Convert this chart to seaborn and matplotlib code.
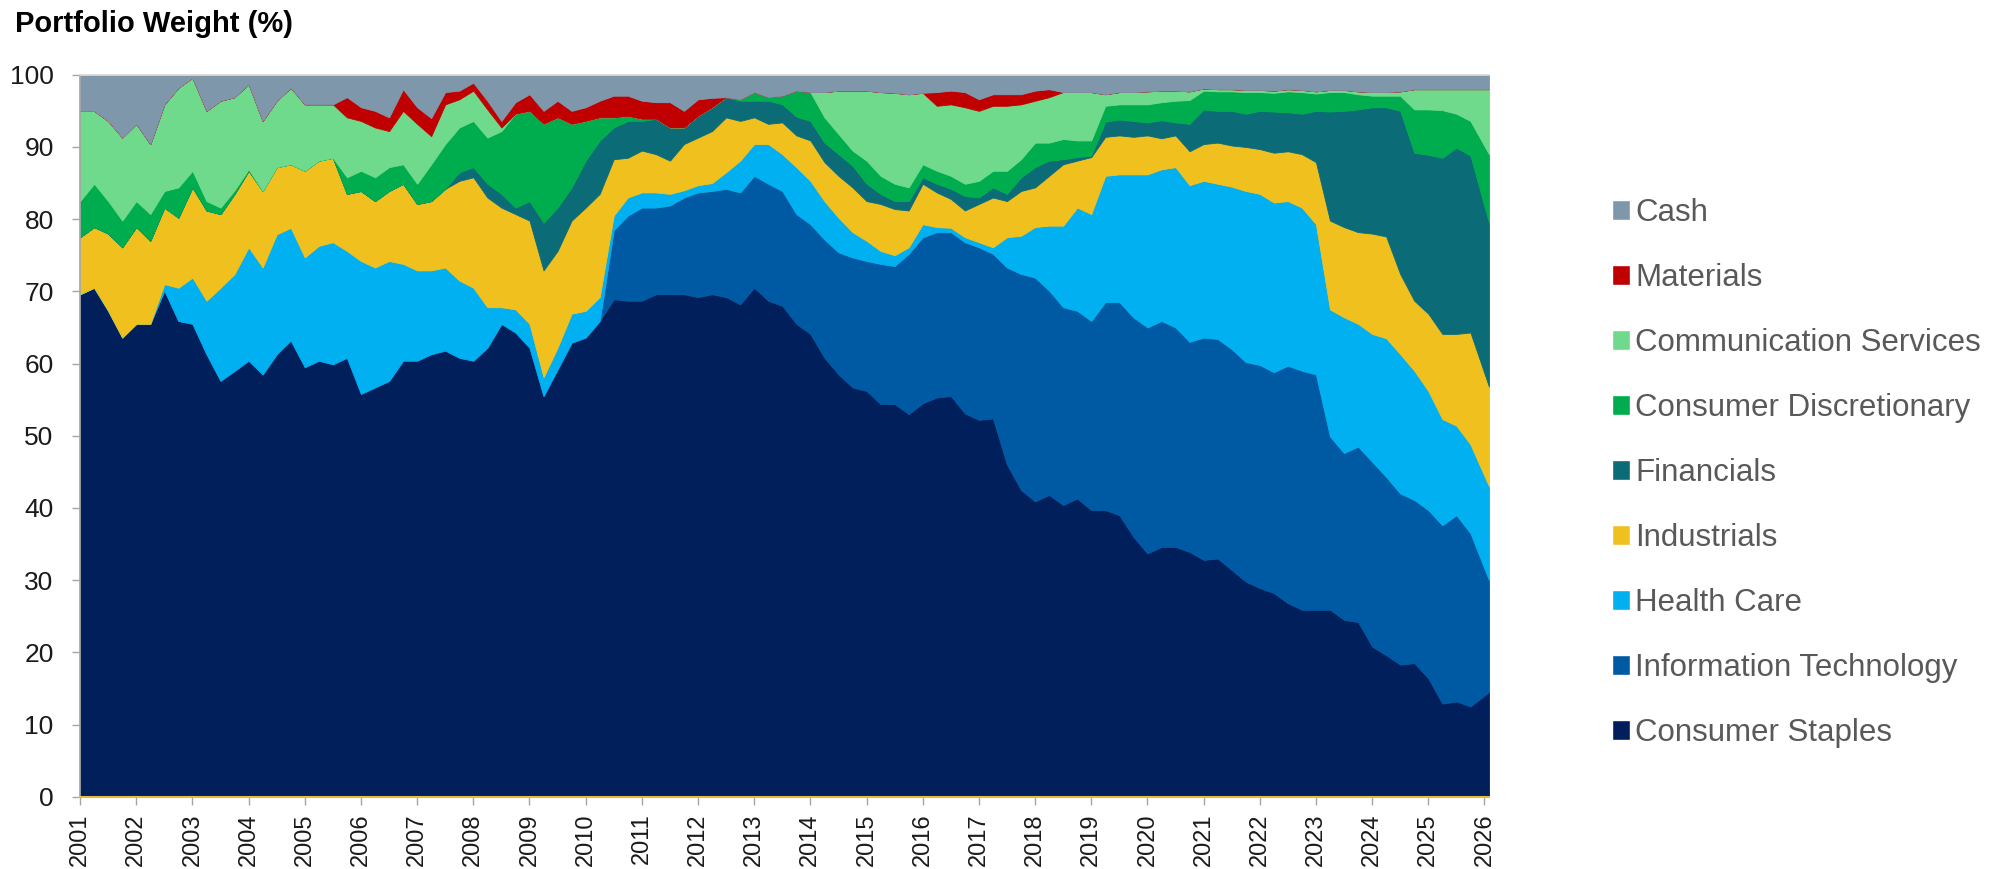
import numpy as np
import seaborn as sns
from matplotlib import pyplot as plt
from matplotlib.patches import Patch

# quarterly readings, last point is the end of the series (early 2026)
years = np.append(np.arange(2001, 2026, 0.25), 2026.08)

# top edge of each stacked layer (cumulative %)
staples_top = [69.6, 70.5, 67.3, 63.6, 65.5, 65.5, 70.1, 65.9, 65.5, 61.3, 57.6, 59.0, 60.4, 58.5, 61.3, 63.2, 59.5, 60.4, 59.9, 60.8,
               55.8, 56.7, 57.6, 60.4, 60.4, 61.3, 61.8, 60.8, 60.4, 62.2, 65.5, 64.3, 62.2, 55.5, 59.2, 62.9, 63.6, 65.9, 68.9, 68.7,
               68.7, 69.6, 69.6, 69.6, 69.2, 69.6, 69.2, 68.2, 70.5, 68.7, 68.0, 65.5, 64.1, 60.8, 58.5, 56.7, 56.2, 54.4, 54.4, 53.0,
               54.5, 55.3, 55.5, 53.1, 52.2, 52.4, 46.0, 42.5, 40.9, 41.8, 40.4, 41.3, 39.7, 39.7, 39.0, 36.0, 33.7, 34.6, 34.6, 33.9,
               32.8, 33.0, 31.4, 29.8, 28.9, 28.2, 26.8, 25.9, 25.9, 25.9, 24.5, 24.2, 20.8, 19.6, 18.3, 18.5, 16.4, 12.9, 13.2, 12.5, 14.5]
it_top = [69.6, 70.5, 67.3, 63.6, 65.5, 65.5, 70.1, 65.9, 65.5, 61.3, 57.6, 59.0, 60.4, 58.5, 61.3, 63.2, 59.5, 60.4, 59.9, 60.8,
          55.8, 56.7, 57.6, 60.4, 60.4, 61.3, 61.8, 60.8, 60.4, 62.2, 65.5, 64.3, 62.2, 55.5, 59.2, 62.9, 63.6, 65.9, 78.5, 80.5,
          81.6, 81.6, 81.9, 83.0, 83.7, 83.9, 84.2, 83.7, 86.0, 84.9, 83.9, 80.7, 79.3, 77.2, 75.4, 74.7, 74.2, 73.8, 73.5, 75.2,
          77.5, 78.2, 78.2, 76.8, 76.1, 75.2, 73.3, 72.4, 71.9, 70.1, 67.8, 67.3, 65.9, 68.5, 68.5, 66.4, 65.0, 65.9, 65.0, 63.0,
          63.6, 63.4, 62.0, 60.2, 59.8, 58.8, 59.7, 59.0, 58.5, 49.9, 47.6, 48.5, 46.4, 44.3, 42.0, 41.1, 39.7, 37.6, 39.0, 36.5, 30.0]
hc_top = [69.6, 70.5, 67.3, 63.6, 65.5, 65.5, 71.0, 70.5, 71.9, 68.7, 70.5, 72.4, 76.1, 73.3, 77.9, 78.8, 74.7, 76.3, 76.8, 75.6,
          74.2, 73.3, 74.2, 73.8, 72.9, 72.9, 73.3, 71.5, 70.5, 67.8, 67.8, 67.5, 65.5, 58.1, 62.2, 66.9, 67.3, 69.2, 80.5, 83.0,
          83.7, 83.7, 83.5, 84.0, 84.7, 85.0, 86.5, 88.1, 90.4, 90.4, 89.0, 87.2, 85.3, 82.5, 80.2, 78.2, 77.0, 75.6, 75.0, 76.1,
          79.3, 78.9, 78.8, 77.5, 76.8, 76.1, 77.5, 77.7, 78.9, 79.1, 79.1, 81.6, 80.7, 86.0, 86.2, 86.2, 86.2, 86.9, 87.2, 84.7,
          85.3, 84.9, 84.5, 83.9, 83.5, 82.3, 82.5, 81.6, 79.3, 67.5, 66.4, 65.5, 64.1, 63.5, 61.3, 59.0, 56.2, 52.3, 51.4, 48.8, 43.0]
ind_top = [77.5, 78.9, 78.0, 76.1, 78.9, 77.0, 81.6, 80.2, 84.4, 81.2, 80.7, 83.5, 86.7, 83.9, 87.2, 87.6, 86.7, 88.1, 88.5, 83.5,
           83.9, 82.5, 83.9, 84.9, 82.1, 82.5, 84.2, 85.3, 85.8, 83.0, 81.6, 80.7, 79.8, 72.9, 75.6, 79.8, 81.6, 83.5, 88.3, 88.5,
           89.5, 89.0, 88.1, 90.4, 91.3, 92.2, 94.1, 93.6, 94.1, 93.2, 93.4, 91.6, 90.9, 87.9, 86.0, 84.4, 82.5, 82.1, 81.4, 81.2,
           84.9, 83.7, 82.8, 81.2, 82.1, 83.0, 82.5, 83.9, 84.4, 86.0, 87.6, 88.1, 88.6, 91.4, 91.6, 91.4, 91.6, 91.2, 91.6, 89.4,
           90.4, 90.6, 90.2, 90.0, 89.7, 89.2, 89.4, 89.0, 87.9, 79.8, 78.9, 78.2, 78.0, 77.6, 72.4, 68.7, 66.9, 64.1, 64.1, 64.3, 56.8]
fin_top = [77.5, 78.9, 78.0, 76.1, 78.9, 77.0, 81.6, 80.2, 84.4, 81.2, 80.7, 83.5, 86.7, 83.9, 87.2, 87.6, 86.7, 88.1, 88.5, 83.5,
           83.9, 82.5, 83.9, 84.9, 82.1, 82.5, 84.2, 86.5, 87.2, 84.9, 83.5, 81.6, 82.5, 79.5, 81.6, 84.4, 88.1, 90.9, 92.7, 93.6,
           93.6, 93.9, 92.7, 92.7, 94.3, 95.5, 96.9, 96.4, 96.4, 96.4, 95.9, 94.2, 93.6, 90.6, 89.0, 87.4, 84.9, 83.5, 82.5, 82.5,
           85.8, 84.9, 84.2, 83.2, 83.0, 84.4, 83.5, 85.8, 87.2, 88.1, 88.3, 88.6, 88.8, 93.5, 93.8, 93.6, 93.4, 93.7, 93.4, 93.2,
           95.2, 95.0, 95.0, 94.6, 95.0, 94.9, 94.8, 94.6, 95.0, 94.9, 95.0, 95.2, 95.5, 95.5, 95.0, 89.2, 88.9, 88.5, 89.9, 88.8, 79.5]
cd_top = [82.5, 84.9, 82.5, 79.8, 82.5, 80.7, 83.9, 84.4, 86.7, 82.5, 81.6, 84.0, 86.9, 83.9, 87.2, 87.6, 86.7, 88.1, 88.5, 85.8,
          86.7, 85.8, 87.2, 87.6, 84.9, 87.6, 90.4, 92.7, 93.6, 91.3, 92.2, 94.6, 95.0, 93.2, 94.1, 93.2, 93.6, 94.1, 94.1, 94.3,
          93.9, 93.9, 92.7, 92.7, 94.3, 95.5, 96.9, 96.6, 97.6, 96.9, 97.1, 97.8, 97.6, 94.1, 91.8, 89.5, 88.1, 86.0, 84.9, 84.4,
          87.6, 86.7, 86.0, 84.9, 85.3, 86.7, 86.7, 88.3, 90.6, 90.6, 91.1, 90.9, 90.9, 95.7, 95.9, 95.9, 95.9, 96.2, 96.4, 96.5,
          97.8, 97.7, 97.7, 97.6, 97.6, 97.5, 97.7, 97.6, 97.4, 97.6, 97.6, 97.3, 97.1, 97.1, 97.1, 95.2, 95.2, 95.1, 94.6, 93.6, 89.0]
comm_top = [95.0, 95.0, 93.6, 91.3, 93.2, 90.4, 95.9, 98.2, 99.6, 95.0, 96.4, 96.9, 98.7, 93.6, 96.4, 98.2, 95.9, 95.9, 95.9, 94.1,
            93.6, 92.7, 92.2, 95.0, 93.2, 91.5, 95.9, 96.6, 97.8, 95.2, 92.7, 94.6, 95.0, 93.2, 94.1, 93.2, 93.6, 94.1, 94.1, 94.3,
            93.9, 93.9, 92.7, 92.7, 94.3, 95.5, 96.9, 96.6, 97.6, 96.9, 97.1, 97.8, 97.6, 97.6, 97.8, 97.8, 97.8, 97.6, 97.5, 97.3,
            97.5, 95.7, 95.9, 95.5, 95.0, 95.7, 95.7, 95.9, 96.4, 96.9, 97.6, 97.6, 97.6, 97.3, 97.6, 97.6, 97.7, 97.8, 97.8, 97.7,
            98.1, 98.0, 98.0, 97.9, 97.9, 97.8, 98.0, 97.9, 97.7, 97.9, 97.9, 97.7, 97.6, 97.6, 97.7, 98.0, 98.0, 98.0, 98.0, 98.0, 98.0]
mat_top = [95.0, 95.0, 93.6, 91.3, 93.2, 90.4, 95.9, 98.2, 99.6, 95.0, 96.4, 96.9, 98.7, 93.6, 96.4, 98.2, 95.9, 95.9, 95.9, 96.9,
           95.5, 95.0, 94.1, 98.0, 95.5, 94.0, 97.6, 97.8, 98.9, 96.4, 93.6, 96.2, 97.3, 95.0, 96.4, 95.0, 95.5, 96.4, 97.1, 97.1,
           96.4, 96.2, 96.2, 95.0, 96.6, 96.8, 96.9, 96.6, 97.6, 96.9, 97.1, 97.8, 97.6, 97.6, 97.8, 97.8, 97.8, 97.6, 97.5, 97.3,
           97.5, 97.6, 97.8, 97.6, 96.6, 97.3, 97.3, 97.3, 97.8, 98.0, 97.6, 97.6, 97.6, 97.3, 97.6, 97.6, 97.7, 97.8, 97.8, 97.7,
           98.1, 98.0, 98.0, 97.9, 97.9, 97.8, 98.0, 97.9, 97.7, 97.9, 97.9, 97.7, 97.6, 97.6, 97.7, 98.0, 98.0, 98.0, 98.0, 98.0, 98.0]

sectors = ["Consumer Staples", "Information Technology", "Health Care", "Industrials",
           "Financials", "Consumer Discretionary", "Communication Services", "Materials", "Cash"]
colors = ["#001f5b", "#005aa3", "#00b0f0", "#f0c01e", "#0b6b76",
          "#00ad4e", "#6fda8b", "#c00000", "#7f97ab"]

n = len(years)
tops = [staples_top, it_top, hc_top, ind_top, fin_top, cd_top, comm_top, mat_top]
stack = np.vstack([np.zeros(n)] + [np.array(t) for t in tops] + [np.full(n, 100.0)])
stack = np.maximum.accumulate(stack, axis=0)
weights = np.diff(stack, axis=0)

sns.set_theme(style="white")
plt.rcParams['font.family'] = ['Liberation Sans', 'DejaVu Sans']

fig = plt.figure(figsize=(19.97, 8.69), dpi=100)
ax = fig.add_axes([0.0401, 0.0832, 0.7055, 0.8308])
ax.stackplot(years, weights, colors=colors, linewidth=0.6, edgecolor="face")

ax.set_xlim(2001, 2026.08)
ax.set_ylim(0, 100)
ax.set_xticks(range(2001, 2027))
ax.set_xticklabels([str(y) for y in range(2001, 2027)], rotation=90)
ax.set_yticks(range(0, 101, 10))
ax.tick_params(axis="both", bottom=True, left=True, direction="out", length=6, width=1,
               color="#a6a6a6", labelcolor="#1a1a1a")
ax.tick_params(axis="y", labelsize=19, pad=13)
ax.tick_params(axis="x", labelsize=17, pad=6)

ax.spines["right"].set_visible(False)
ax.spines["top"].set_color("#d9d9d9")
ax.spines["left"].set_color("#a6a6a6")
ax.spines["bottom"].set_color("#e2bd3c")
ax.spines["bottom"].set_linewidth(1.5)

fig.text(0.0075, 0.972, "Portfolio Weight (%)", fontsize=21, fontweight="bold",
         ha="left", va="center", color="black")

handles = [Patch(facecolor=c, label=s) for s, c in zip(sectors, colors)][::-1]
fig.legend(handles=handles, loc="center left", bbox_to_anchor=(0.807, 0.456), frameon=False,
           fontsize=22.5, labelcolor="#595959", handlelength=0.6, handleheight=0.6,
           handletextpad=0.15, labelspacing=1.12, borderpad=0, borderaxespad=0)

fig.savefig("out.png", dpi=100)
plt.close(fig)
